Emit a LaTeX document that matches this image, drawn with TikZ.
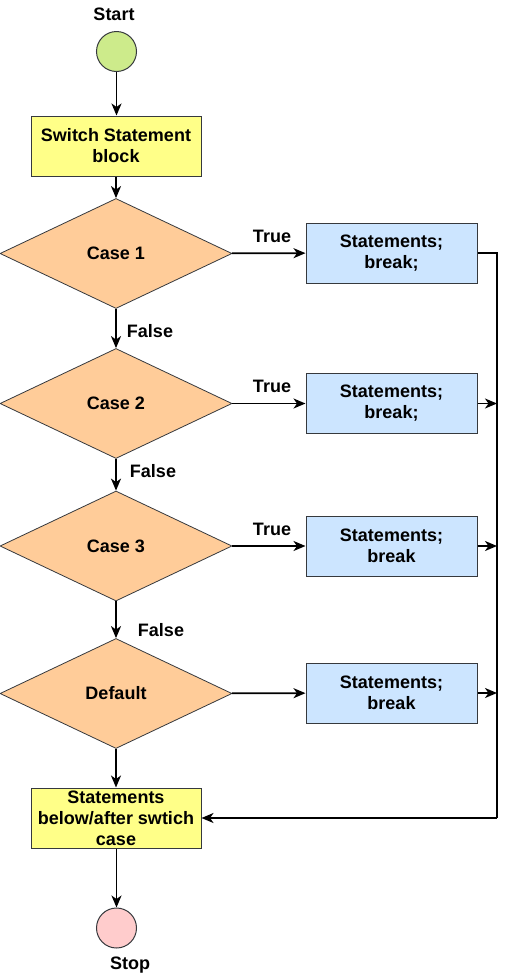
\documentclass[tikz,border=0pt]{standalone}
\usepackage{fontspec}
\setmainfont{Liberation Sans}
\usetikzlibrary{shapes.geometric,arrows.meta}
\definecolor{cgreen}{HTML}{CDEB8B}
\definecolor{cyellow}{HTML}{FFFF88}
\definecolor{corange}{HTML}{FFCC99}
\definecolor{cblue}{HTML}{CCE5FF}
\definecolor{cpink}{HTML}{FFCCCC}
\definecolor{cstroke}{HTML}{36393D}
\tikzset{
  every node/.style={font=\fontsize{18}{21}\selectfont\bfseries},
  term/.style={circle,draw=cstroke,line width=1pt,minimum size=40pt,inner sep=0pt},
  ybox/.style={rectangle,draw=cstroke,line width=1pt,fill=cyellow,minimum width=170pt,minimum height=60pt,align=center,inner sep=0pt},
  bbox/.style={rectangle,draw=cstroke,line width=1pt,fill=cblue,minimum width=171pt,minimum height=60pt,align=center,inner sep=0pt},
  dec/.style={diamond,draw=cstroke,line width=0.8pt,fill=corange,aspect=2.11,minimum width=232pt,minimum height=110pt,inner sep=0pt},
  flow/.style={line width=1.8pt,-{Stealth[length=12pt,width=10pt,inset=3.5pt]}},
  plain/.style={line width=1.8pt},
  lbl/.style={inner sep=0pt}
}
\begin{document}
\begin{tikzpicture}[x=1pt,y=-1pt]
\useasboundingbox (0,0) rectangle (511,975);
\node[term,fill=cgreen] (start) at (116.5,51.5) {};
\node[lbl] (startl) at (114,14) {Start};
\node[ybox] (switch) at (116,146) {Switch Statement\\block};
\node[dec] (c1) at (116,253.5) {Case 1};
\node[dec] (c2) at (116,403.5) {Case 2};
\node[dec] (c3) at (116,546) {Case 3};
\node[dec] (cd) at (116,693.5) {Default};
\node[bbox] (b1) at (391.5,253) {Statements;\\break;};
\node[bbox] (b2) at (391.5,403.5) {Statements;\\break;};
\node[bbox] (b3) at (391.5,546) {Statements;\\break};
\node[bbox] (b4) at (391.5,693) {Statements;\\break};
\node[ybox] (final) at (116,818) {Statements\\below/after swtich\\case};
\node[term,fill=cpink] (stop) at (116.5,928) {};
\node[lbl] (stopl) at (130,965) {Stop};
\node[lbl] (f1) at (150,331) {False};
\node[lbl] (f2) at (153,471) {False};
\node[lbl] (f3) at (161,630) {False};
\node[lbl] (t1) at (272,236) {True};
\node[lbl] (t2) at (272,386) {True};
\node[lbl] (t3) at (272,529) {True};
\coordinate (r1) at (497,253);
\coordinate (r2) at (497,403.5);
\coordinate (r3) at (497,546);
\coordinate (r4) at (497,693);
\coordinate (rb) at (497,818);
\draw[flow] (start) -- (switch.north -| start);
\draw[flow] (switch) -- (c1);
\draw[flow] (c1) -- (c2);
\draw[flow] (c2) -- (c3);
\draw[flow] (c3) -- (cd);
\draw[flow] (cd) -- (final);
\draw[flow] (final.south -| stop) -- (stop);
\draw[flow] (c1) -- (b1);
\draw[flow] (c2) -- (b2);
\draw[flow] (c3) -- (b3);
\draw[flow] (cd) -- (b4);
\draw[flow] (b2) -- (r2);
\draw[flow] (b3) -- (r3);
\draw[flow] (b4) -- (r4);
\draw[plain,line join=miter] (b1.east) -- (r1) -- (rb);
\draw[flow] (rb) -- (final.east);
\end{tikzpicture}
\end{document}
